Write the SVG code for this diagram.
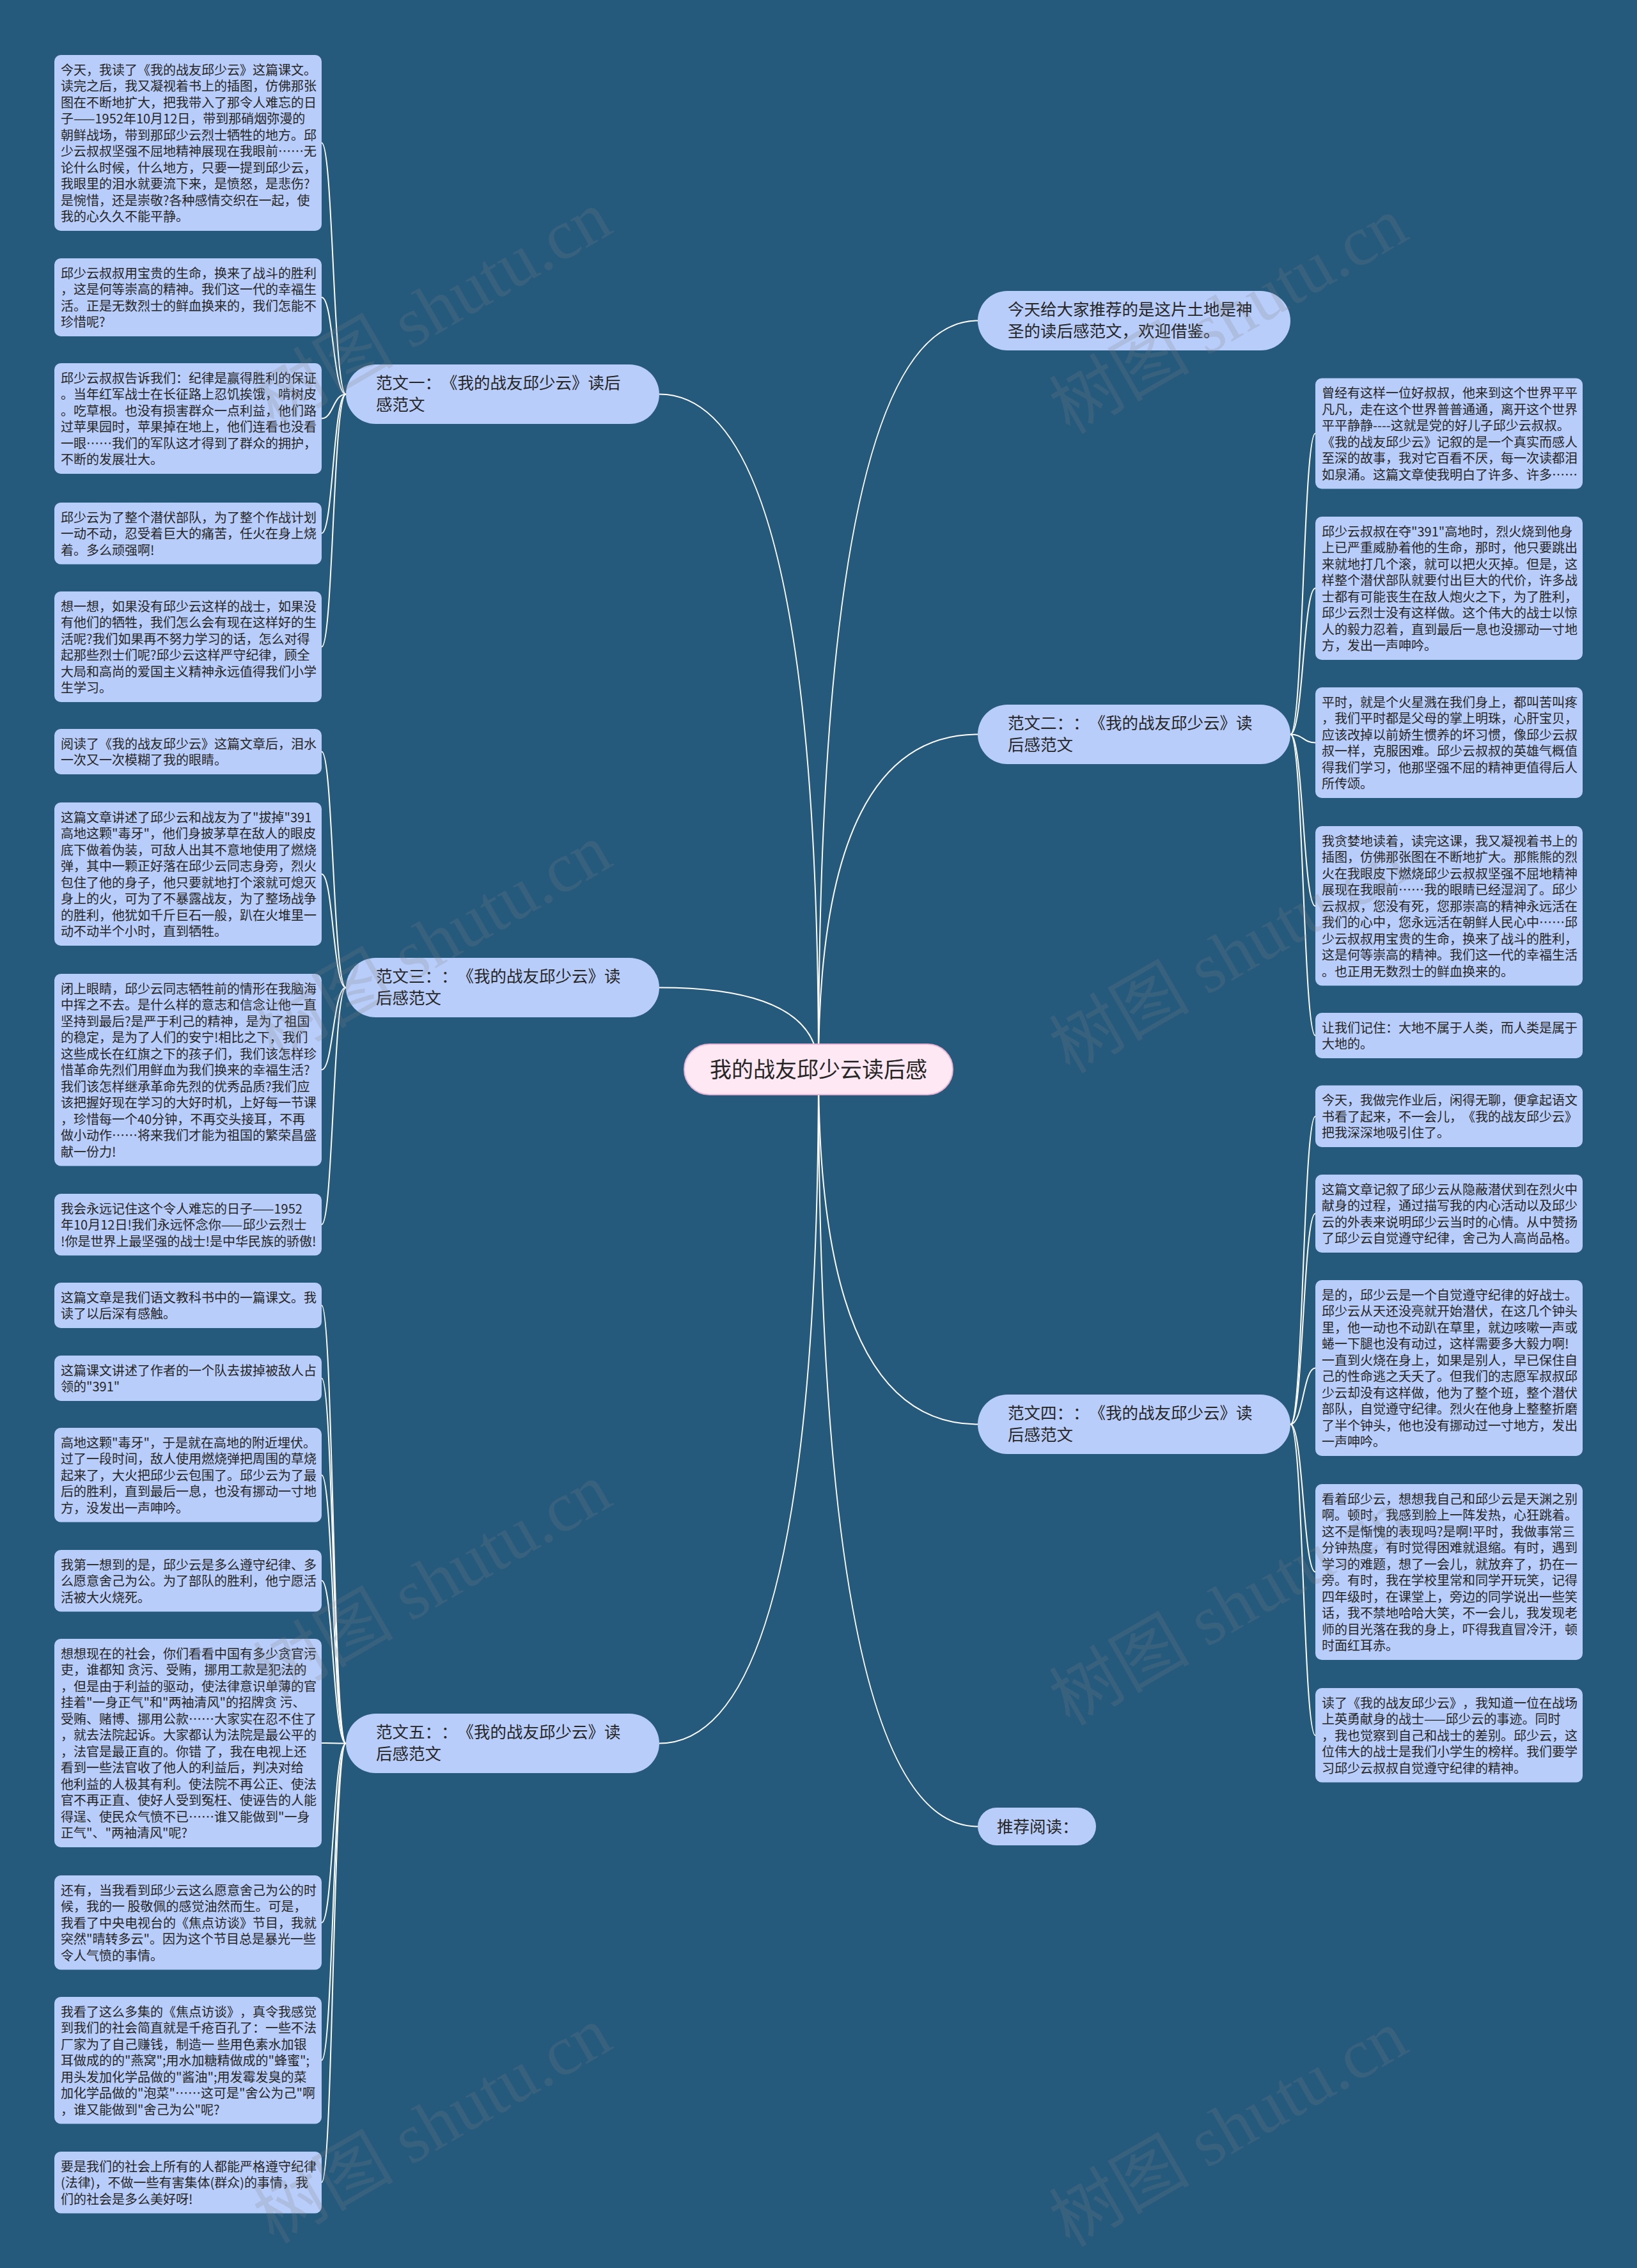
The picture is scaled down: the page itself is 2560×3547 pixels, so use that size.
<svg xmlns="http://www.w3.org/2000/svg" width="2560" height="3547" viewBox="0 0 2560 3547">
<style>
.bg{fill:#255a7d}
text{text-spacing-trim:space-all}
.leaf rect{fill:#b8cdf9}
.leaf text,.branch text,.root text{font-family:"Noto Sans CJK SC","Noto Sans",sans-serif;fill:#262626}
.leaf text{font-size:20px}
.branch rect{fill:#b8cdf9}
.branch text{font-size:25.5px}
.root rect{fill:#fde8f3;stroke:#e9b7d5;stroke-width:2}
.root text{font-size:34px;text-anchor:middle}
.edges path{fill:none;stroke:#ffffff;stroke-width:2}
.wm text{font-family:"Liberation Serif","Noto Sans CJK SC",serif;font-size:110px;fill:#808080;opacity:.2;text-anchor:middle}
</style>
<rect class="bg" x="0" y="0" width="2560" height="3547"/>
<g id="edges" class="edges">
<path d="M1031 616.5 Q1280 616.5 1280 1672"/>
<path d="M1031 1544.5 Q1280 1544.5 1280 1672"/>
<path d="M1031 2726.5 Q1280 2726.5 1280 1672"/>
<path d="M1529 501.5 Q1280 501.5 1280 1672"/>
<path d="M1529 1148.5 Q1280 1148.5 1280 1672"/>
<path d="M1529 2227.5 Q1280 2227.5 1280 1672"/>
<path d="M1529 2856.5 Q1280 2856.5 1280 1672"/>
<path d="M541 616.5 C521 616.5 521 223.5 503 223.5"/>
<path d="M541 616.5 C521 616.5 521 465 503 465"/>
<path d="M541 616.5 C521 616.5 521 654.5 503 654.5"/>
<path d="M541 616.5 C521 616.5 521 834 503 834"/>
<path d="M541 616.5 C521 616.5 521 1011.5 503 1011.5"/>
<path d="M541 1544.5 C521 1544.5 521 1175.5 503 1175.5"/>
<path d="M541 1544.5 C521 1544.5 521 1367 503 1367"/>
<path d="M541 1544.5 C521 1544.5 521 1673 503 1673"/>
<path d="M541 1544.5 C521 1544.5 521 1915 503 1915"/>
<path d="M541 2726.5 C521 2726.5 521 2041.5 503 2041.5"/>
<path d="M541 2726.5 C521 2726.5 521 2155.5 503 2155.5"/>
<path d="M541 2726.5 C521 2726.5 521 2307 503 2307"/>
<path d="M541 2726.5 C521 2726.5 521 2472 503 2472"/>
<path d="M541 2726.5 C521 2726.5 521 2726 503 2726"/>
<path d="M541 2726.5 C521 2726.5 521 3007 503 3007"/>
<path d="M541 2726.5 C521 2726.5 521 3222 503 3222"/>
<path d="M541 2726.5 C521 2726.5 521 3413 503 3413"/>
<path d="M2018 1148.5 C2038 1148.5 2038 678 2057 678"/>
<path d="M2018 1148.5 C2038 1148.5 2038 920 2057 920"/>
<path d="M2018 1148.5 C2038 1148.5 2038 1161.5 2057 1161.5"/>
<path d="M2018 1148.5 C2038 1148.5 2038 1417 2057 1417"/>
<path d="M2018 1148.5 C2038 1148.5 2038 1619.5 2057 1619.5"/>
<path d="M2018 2227.5 C2038 2227.5 2038 1746 2057 1746"/>
<path d="M2018 2227.5 C2038 2227.5 2038 1898 2057 1898"/>
<path d="M2018 2227.5 C2038 2227.5 2038 2139.5 2057 2139.5"/>
<path d="M2018 2227.5 C2038 2227.5 2038 2458.5 2057 2458.5"/>
<path d="M2018 2227.5 C2038 2227.5 2038 2714 2057 2714"/>
</g>
<g id="root" class="root"><rect x="1070" y="1633" width="420" height="79" rx="39.5"/><text x="1280" y="1685">我的战友邱少云读后感</text></g>
<g id="b1" class="branch"><rect x="541" y="570" width="490" height="93" rx="46.5"/><text x="588" y="608"><tspan x="588">范文一：《我的战友邱少云》读后</tspan><tspan x="588" dy="34">感范文</tspan></text></g>
<g id="b3" class="branch"><rect x="541" y="1498" width="490" height="93" rx="46.5"/><text x="588" y="1536"><tspan x="588">范文三：：《我的战友邱少云》读</tspan><tspan x="588" dy="34">后感范文</tspan></text></g>
<g id="b5" class="branch"><rect x="541" y="2680" width="490" height="93" rx="46.5"/><text x="588" y="2718"><tspan x="588">范文五：：《我的战友邱少云》读</tspan><tspan x="588" dy="34">后感范文</tspan></text></g>
<g id="b0" class="branch"><rect x="1529" y="455" width="489" height="93" rx="46.5"/><text x="1576" y="493"><tspan x="1576">今天给大家推荐的是这片土地是神</tspan><tspan x="1576" dy="34">圣的读后感范文，欢迎借鉴。</tspan></text></g>
<g id="b2" class="branch"><rect x="1529" y="1102" width="489" height="93" rx="46.5"/><text x="1576" y="1140"><tspan x="1576">范文二：：《我的战友邱少云》读</tspan><tspan x="1576" dy="34">后感范文</tspan></text></g>
<g id="b4" class="branch"><rect x="1529" y="2181" width="489" height="93" rx="46.5"/><text x="1576" y="2219"><tspan x="1576">范文四：：《我的战友邱少云》读</tspan><tspan x="1576" dy="34">后感范文</tspan></text></g>
<g id="b6" class="branch"><rect x="1529" y="2827" width="185" height="59" rx="29.5"/><text x="1559" y="2866">推荐阅读：</text></g>
<g id="l1" class="leaf"><rect x="85" y="86" width="418" height="275" rx="10"/><text x="95" y="116.5"><tspan x="95">今天，我读了《我的战友邱少云》这篇课文。</tspan><tspan x="95" dy="25.5">读完之后，我又凝视着书上的插图，仿佛那张</tspan><tspan x="95" dy="25.5">图在不断地扩大，把我带入了那令人难忘的日</tspan><tspan x="95" dy="25.5">子——1952年10月12日，带到那硝烟弥漫的</tspan><tspan x="95" dy="25.5">朝鲜战场，带到那邱少云烈士牺牲的地方。邱</tspan><tspan x="95" dy="25.5">少云叔叔坚强不屈地精神展现在我眼前……无</tspan><tspan x="95" dy="25.5">论什么时候，什么地方，只要一提到邱少云，</tspan><tspan x="95" dy="25.5">我眼里的泪水就要流下来，是愤怒，是悲伤?</tspan><tspan x="95" dy="25.5">是惋惜，还是崇敬?各种感情交织在一起，使</tspan><tspan x="95" dy="25.5">我的心久久不能平静。</tspan></text></g>
<g id="l2" class="leaf"><rect x="85" y="404" width="418" height="122" rx="10"/><text x="95" y="434.5"><tspan x="95">邱少云叔叔用宝贵的生命，换来了战斗的胜利</tspan><tspan x="95" dy="25.5">，这是何等崇高的精神。我们这一代的幸福生</tspan><tspan x="95" dy="25.5">活。正是无数烈士的鲜血换来的，我们怎能不</tspan><tspan x="95" dy="25.5">珍惜呢?</tspan></text></g>
<g id="l3" class="leaf"><rect x="85" y="568" width="418" height="173" rx="10"/><text x="95" y="598.5"><tspan x="95">邱少云叔叔告诉我们：纪律是赢得胜利的保证</tspan><tspan x="95" dy="25.5">。当年红军战士在长征路上忍饥挨饿，啃树皮</tspan><tspan x="95" dy="25.5">。吃草根。也没有损害群众一点利益，他们路</tspan><tspan x="95" dy="25.5">过苹果园时，苹果掉在地上，他们连看也没看</tspan><tspan x="95" dy="25.5">一眼……我们的军队这才得到了群众的拥护，</tspan><tspan x="95" dy="25.5">不断的发展壮大。</tspan></text></g>
<g id="l4" class="leaf"><rect x="85" y="786" width="418" height="96.5" rx="10"/><text x="95" y="816.5"><tspan x="95">邱少云为了整个潜伏部队，为了整个作战计划</tspan><tspan x="95" dy="25.5">一动不动，忍受着巨大的痛苦，任火在身上烧</tspan><tspan x="95" dy="25.5">着。多么顽强啊!</tspan></text></g>
<g id="l5" class="leaf"><rect x="85" y="925" width="418" height="173" rx="10"/><text x="95" y="955.5"><tspan x="95">想一想，如果没有邱少云这样的战士，如果没</tspan><tspan x="95" dy="25.5">有他们的牺牲，我们怎么会有现在这样好的生</tspan><tspan x="95" dy="25.5">活呢?我们如果再不努力学习的话，怎么对得</tspan><tspan x="95" dy="25.5">起那些烈士们呢?邱少云这样严守纪律，顾全</tspan><tspan x="95" dy="25.5">大局和高尚的爱国主义精神永远值得我们小学</tspan><tspan x="95" dy="25.5">生学习。</tspan></text></g>
<g id="l6" class="leaf"><rect x="85" y="1140" width="418" height="71" rx="10"/><text x="95" y="1170.5"><tspan x="95">阅读了《我的战友邱少云》这篇文章后，泪水</tspan><tspan x="95" dy="25.5">一次又一次模糊了我的眼睛。</tspan></text></g>
<g id="l7" class="leaf"><rect x="85" y="1255" width="418" height="224" rx="10"/><text x="95" y="1285.5"><tspan x="95">这篇文章讲述了邱少云和战友为了"拔掉"391</tspan><tspan x="95" dy="25.5">高地这颗"毒牙"，他们身披茅草在敌人的眼皮</tspan><tspan x="95" dy="25.5">底下做着伪装，可敌人出其不意地使用了燃烧</tspan><tspan x="95" dy="25.5">弹，其中一颗正好落在邱少云同志身旁，烈火</tspan><tspan x="95" dy="25.5">包住了他的身子，他只要就地打个滚就可熄灭</tspan><tspan x="95" dy="25.5">身上的火，可为了不暴露战友，为了整场战争</tspan><tspan x="95" dy="25.5">的胜利，他犹如千斤巨石一般，趴在火堆里一</tspan><tspan x="95" dy="25.5">动不动半个小时，直到牺牲。</tspan></text></g>
<g id="l8" class="leaf"><rect x="85" y="1523" width="418" height="300.5" rx="10"/><text x="95" y="1553.5"><tspan x="95">闭上眼睛，邱少云同志牺牲前的情形在我脑海</tspan><tspan x="95" dy="25.5">中挥之不去。是什么样的意志和信念让他一直</tspan><tspan x="95" dy="25.5">坚持到最后?是严于利己的精神，是为了祖国</tspan><tspan x="95" dy="25.5">的稳定，是为了人们的安宁!相比之下，我们</tspan><tspan x="95" dy="25.5">这些成长在红旗之下的孩子们，我们该怎样珍</tspan><tspan x="95" dy="25.5">惜革命先烈们用鲜血为我们换来的幸福生活?</tspan><tspan x="95" dy="25.5">我们该怎样继承革命先烈的优秀品质?我们应</tspan><tspan x="95" dy="25.5">该把握好现在学习的大好时机，上好每一节课</tspan><tspan x="95" dy="25.5">，珍惜每一个40分钟，不再交头接耳，不再</tspan><tspan x="95" dy="25.5">做小动作……将来我们才能为祖国的繁荣昌盛</tspan><tspan x="95" dy="25.5">献一份力!</tspan></text></g>
<g id="l9" class="leaf"><rect x="85" y="1867" width="418" height="96.5" rx="10"/><text x="95" y="1897.5"><tspan x="95">我会永远记住这个令人难忘的日子——1952</tspan><tspan x="95" dy="25.5">年10月12日!我们永远怀念你——邱少云烈士</tspan><tspan x="95" dy="25.5">!你是世界上最坚强的战士!是中华民族的骄傲!</tspan></text></g>
<g id="l10" class="leaf"><rect x="85" y="2006" width="418" height="71" rx="10"/><text x="95" y="2036.5"><tspan x="95">这篇文章是我们语文教科书中的一篇课文。我</tspan><tspan x="95" dy="25.5">读了以后深有感触。</tspan></text></g>
<g id="l11" class="leaf"><rect x="85" y="2120" width="418" height="71" rx="10"/><text x="95" y="2150.5"><tspan x="95">这篇课文讲述了作者的一个队去拔掉被敌人占</tspan><tspan x="95" dy="25.5">领的"391"</tspan></text></g>
<g id="l12" class="leaf"><rect x="85" y="2233" width="418" height="147.5" rx="10"/><text x="95" y="2263.5"><tspan x="95">高地这颗"毒牙"，于是就在高地的附近埋伏。</tspan><tspan x="95" dy="25.5">过了一段时间，敌人使用燃烧弹把周围的草烧</tspan><tspan x="95" dy="25.5">起来了，大火把邱少云包围了。邱少云为了最</tspan><tspan x="95" dy="25.5">后的胜利，直到最后一息，也没有挪动一寸地</tspan><tspan x="95" dy="25.5">方，没发出一声呻吟。</tspan></text></g>
<g id="l13" class="leaf"><rect x="85" y="2424" width="418" height="96.5" rx="10"/><text x="95" y="2454.5"><tspan x="95">我第一想到的是，邱少云是多么遵守纪律、多</tspan><tspan x="95" dy="25.5">么愿意舍己为公。为了部队的胜利，他宁愿活</tspan><tspan x="95" dy="25.5">活被大火烧死。</tspan></text></g>
<g id="l14" class="leaf"><rect x="85" y="2563" width="418" height="326" rx="10"/><text x="95" y="2593.5"><tspan x="95">想想现在的社会，你们看看中国有多少贪官污</tspan><tspan x="95" dy="25.5">吏，谁都知 贪污、受贿，挪用工款是犯法的</tspan><tspan x="95" dy="25.5">，但是由于利益的驱动，使法律意识单薄的官</tspan><tspan x="95" dy="25.5">挂着"一身正气"和"两袖清风"的招牌贪 污、</tspan><tspan x="95" dy="25.5">受贿、赌博、挪用公款……大家实在忍不住了</tspan><tspan x="95" dy="25.5">，就去法院起诉。大家都认为法院是最公平的</tspan><tspan x="95" dy="25.5">，法官是最正直的。你错 了，我在电视上还</tspan><tspan x="95" dy="25.5">看到一些法官收了他人的利益后，判决对给</tspan><tspan x="95" dy="25.5">他利益的人极其有利。使法院不再公正、使法</tspan><tspan x="95" dy="25.5">官不再正直、使好人受到冤枉、使诬告的人能</tspan><tspan x="95" dy="25.5">得逞、使民众气愤不已……谁又能做到"一身</tspan><tspan x="95" dy="25.5">正气"、"两袖清风"呢?</tspan></text></g>
<g id="l15" class="leaf"><rect x="85" y="2933" width="418" height="147.5" rx="10"/><text x="95" y="2963.5"><tspan x="95">还有，当我看到邱少云这么愿意舍己为公的时</tspan><tspan x="95" dy="25.5">候，我的一 股敬佩的感觉油然而生。可是，</tspan><tspan x="95" dy="25.5">我看了中央电视台的《焦点访谈》节目，我就</tspan><tspan x="95" dy="25.5">突然"晴转多云"。因为这个节目总是暴光一些</tspan><tspan x="95" dy="25.5">令人气愤的事情。</tspan></text></g>
<g id="l16" class="leaf"><rect x="85" y="3123" width="418" height="198.5" rx="10"/><text x="95" y="3153.5"><tspan x="95">我看了这么多集的《焦点访谈》，真令我感觉</tspan><tspan x="95" dy="25.5">到我们的社会简直就是千疮百孔了：一些不法</tspan><tspan x="95" dy="25.5">厂家为了自己赚钱，制造一 些用色素水加银</tspan><tspan x="95" dy="25.5">耳做成的的"燕窝";用水加糖精做成的"蜂蜜";</tspan><tspan x="95" dy="25.5">用头发加化学品做的"酱油";用发霉发臭的菜</tspan><tspan x="95" dy="25.5">加化学品做的"泡菜"……这可是"舍公为己"啊</tspan><tspan x="95" dy="25.5">，谁又能做到"舍己为公"呢?</tspan></text></g>
<g id="l17" class="leaf"><rect x="85" y="3365" width="418" height="96.5" rx="10"/><text x="95" y="3395.5"><tspan x="95">要是我们的社会上所有的人都能严格遵守纪律</tspan><tspan x="95" dy="25.5">(法律)，不做一些有害集体(群众)的事情，我</tspan><tspan x="95" dy="25.5">们的社会是多么美好呀!</tspan></text></g>
<g id="r1" class="leaf"><rect x="2057" y="591.5" width="418" height="173" rx="10"/><text x="2067" y="622"><tspan x="2067">曾经有这样一位好叔叔，他来到这个世界平平</tspan><tspan x="2067" dy="25.5">凡凡，走在这个世界普普通通，离开这个世界</tspan><tspan x="2067" dy="25.5">平平静静----这就是党的好儿子邱少云叔叔。</tspan><tspan x="2067" dy="25.5">《我的战友邱少云》记叙的是一个真实而感人</tspan><tspan x="2067" dy="25.5">至深的故事，我对它百看不厌，每一次读都泪</tspan><tspan x="2067" dy="25.5">如泉涌。这篇文章使我明白了许多、许多……</tspan></text></g>
<g id="r2" class="leaf"><rect x="2057" y="808" width="418" height="224" rx="10"/><text x="2067" y="838.5"><tspan x="2067">邱少云叔叔在夺"391"高地时，烈火烧到他身</tspan><tspan x="2067" dy="25.5">上已严重威胁着他的生命，那时，他只要跳出</tspan><tspan x="2067" dy="25.5">来就地打几个滚，就可以把火灭掉。但是，这</tspan><tspan x="2067" dy="25.5">样整个潜伏部队就要付出巨大的代价，许多战</tspan><tspan x="2067" dy="25.5">士都有可能丧生在敌人炮火之下，为了胜利，</tspan><tspan x="2067" dy="25.5">邱少云烈士没有这样做。这个伟大的战士以惊</tspan><tspan x="2067" dy="25.5">人的毅力忍着，直到最后一息也没挪动一寸地</tspan><tspan x="2067" dy="25.5">方，发出一声呻吟。</tspan></text></g>
<g id="r3" class="leaf"><rect x="2057" y="1075" width="418" height="173" rx="10"/><text x="2067" y="1105.5"><tspan x="2067">平时，就是个火星溅在我们身上，都叫苦叫疼</tspan><tspan x="2067" dy="25.5">，我们平时都是父母的掌上明珠，心肝宝贝，</tspan><tspan x="2067" dy="25.5">应该改掉以前娇生惯养的坏习惯，像邱少云叔</tspan><tspan x="2067" dy="25.5">叔一样，克服困难。邱少云叔叔的英雄气概值</tspan><tspan x="2067" dy="25.5">得我们学习，他那坚强不屈的精神更值得后人</tspan><tspan x="2067" dy="25.5">所传颂。</tspan></text></g>
<g id="r4" class="leaf"><rect x="2057" y="1292" width="418" height="249.5" rx="10"/><text x="2067" y="1322.5"><tspan x="2067">我贪婪地读着，读完这课，我又凝视着书上的</tspan><tspan x="2067" dy="25.5">插图，仿佛那张图在不断地扩大。那熊熊的烈</tspan><tspan x="2067" dy="25.5">火在我眼皮下燃烧邱少云叔叔坚强不屈地精神</tspan><tspan x="2067" dy="25.5">展现在我眼前……我的眼睛已经湿润了。邱少</tspan><tspan x="2067" dy="25.5">云叔叔，您没有死，您那崇高的精神永远活在</tspan><tspan x="2067" dy="25.5">我们的心中，您永远活在朝鲜人民心中……邱</tspan><tspan x="2067" dy="25.5">少云叔叔用宝贵的生命，换来了战斗的胜利，</tspan><tspan x="2067" dy="25.5">这是何等崇高的精神。我们这一代的幸福生活</tspan><tspan x="2067" dy="25.5">。也正用无数烈士的鲜血换来的。</tspan></text></g>
<g id="r5" class="leaf"><rect x="2057" y="1584" width="418" height="71" rx="10"/><text x="2067" y="1614.5"><tspan x="2067">让我们记住：大地不属于人类，而人类是属于</tspan><tspan x="2067" dy="25.5">大地的。</tspan></text></g>
<g id="r6" class="leaf"><rect x="2057" y="1697.5" width="418" height="96.5" rx="10"/><text x="2067" y="1728"><tspan x="2067">今天，我做完作业后，闲得无聊，便拿起语文</tspan><tspan x="2067" dy="25.5">书看了起来，不一会儿，《我的战友邱少云》</tspan><tspan x="2067" dy="25.5">把我深深地吸引住了。</tspan></text></g>
<g id="r7" class="leaf"><rect x="2057" y="1837" width="418" height="122" rx="10"/><text x="2067" y="1867.5"><tspan x="2067">这篇文章记叙了邱少云从隐蔽潜伏到在烈火中</tspan><tspan x="2067" dy="25.5">献身的过程，通过描写我的内心活动以及邱少</tspan><tspan x="2067" dy="25.5">云的外表来说明邱少云当时的心情。从中赞扬</tspan><tspan x="2067" dy="25.5">了邱少云自觉遵守纪律，舍己为人高尚品格。</tspan></text></g>
<g id="r8" class="leaf"><rect x="2057" y="2002" width="418" height="275" rx="10"/><text x="2067" y="2032.5"><tspan x="2067">是的，邱少云是一个自觉遵守纪律的好战士。</tspan><tspan x="2067" dy="25.5">邱少云从天还没亮就开始潜伏，在这几个钟头</tspan><tspan x="2067" dy="25.5">里，他一动也不动趴在草里，就边咳嗽一声或</tspan><tspan x="2067" dy="25.5">蜷一下腿也没有动过，这样需要多大毅力啊!</tspan><tspan x="2067" dy="25.5">一直到火烧在身上，如果是别人，早已保住自</tspan><tspan x="2067" dy="25.5">己的性命逃之夭夭了。但我们的志愿军叔叔邱</tspan><tspan x="2067" dy="25.5">少云却没有这样做，他为了整个班，整个潜伏</tspan><tspan x="2067" dy="25.5">部队，自觉遵守纪律。烈火在他身上整整折磨</tspan><tspan x="2067" dy="25.5">了半个钟头，他也没有挪动过一寸地方，发出</tspan><tspan x="2067" dy="25.5">一声呻吟。</tspan></text></g>
<g id="r9" class="leaf"><rect x="2057" y="2321" width="418" height="275" rx="10"/><text x="2067" y="2351.5"><tspan x="2067">看着邱少云，想想我自己和邱少云是天渊之别</tspan><tspan x="2067" dy="25.5">啊。顿时，我感到脸上一阵发热，心狂跳着。</tspan><tspan x="2067" dy="25.5">这不是惭愧的表现吗?是啊!平时，我做事常三</tspan><tspan x="2067" dy="25.5">分钟热度，有时觉得困难就退缩。有时，遇到</tspan><tspan x="2067" dy="25.5">学习的难题，想了一会儿，就放弃了，扔在一</tspan><tspan x="2067" dy="25.5">旁。有时，我在学校里常和同学开玩笑，记得</tspan><tspan x="2067" dy="25.5">四年级时，在课堂上，旁边的同学说出一些笑</tspan><tspan x="2067" dy="25.5">话，我不禁地哈哈大笑，不一会儿，我发现老</tspan><tspan x="2067" dy="25.5">师的目光落在我的身上，吓得我直冒冷汗，顿</tspan><tspan x="2067" dy="25.5">时面红耳赤。</tspan></text></g>
<g id="r10" class="leaf"><rect x="2057" y="2640" width="418" height="147.5" rx="10"/><text x="2067" y="2670.5"><tspan x="2067">读了《我的战友邱少云》，我知道一位在战场</tspan><tspan x="2067" dy="25.5">上英勇献身的战士——邱少云的事迹。同时</tspan><tspan x="2067" dy="25.5">，我也觉察到自己和战士的差别。邱少云，这</tspan><tspan x="2067" dy="25.5">位伟大的战士是我们小学生的榜样。我们要学</tspan><tspan x="2067" dy="25.5">习邱少云叔叔自觉遵守纪律的精神。</tspan></text></g>
<g id="watermarks" class="wm">
<text x="680" y="520" transform="rotate(-30 680 490)">树图 shutu.cn</text>
<text x="1925" y="530" transform="rotate(-30 1925 500)">树图 shutu.cn</text>
<text x="680" y="1510" transform="rotate(-30 680 1480)">树图 shutu.cn</text>
<text x="1925" y="1530" transform="rotate(-30 1925 1500)">树图 shutu.cn</text>
<text x="680" y="2510" transform="rotate(-30 680 2480)">树图 shutu.cn</text>
<text x="1925" y="2550" transform="rotate(-30 1925 2520)">树图 shutu.cn</text>
<text x="680" y="3360" transform="rotate(-30 680 3330)">树图 shutu.cn</text>
<text x="1925" y="3365" transform="rotate(-30 1925 3335)">树图 shutu.cn</text>
</g>
</svg>
